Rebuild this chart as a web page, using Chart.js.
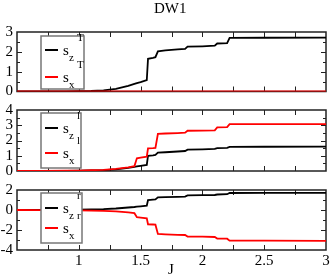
<!DOCTYPE html>
<html>
<head>
<meta charset="utf-8">
<script src="https://cdn.jsdelivr.net/npm/chart.js@4"></script>
<style>
  body { margin: 0; background: #fff; }
  #wrap { position: relative; width: 332px; height: 279px; }
  canvas { position: absolute; left: 0; top: 0; }
  .txt { position: absolute; font-family: "Liberation Serif", serif; font-size: 15px; color: #000; line-height: 1; }
</style>
</head>
<body>
<div id="wrap">
  <canvas id="c1" width="332" height="279"></canvas>
  <canvas id="c2" width="332" height="279"></canvas>
  <canvas id="c3" width="332" height="279"></canvas>
  <div class="txt" style="left:154px; top:1px;">DW1</div>
  <div class="txt" style="left:168px; top:262px;">J</div>
</div>
<script>
// valeurs
const J = [0.5, 0.7, 0.9, 1.0, 1.1, 1.2, 1.3, 1.4, 1.45, 1.47, 1.5, 1.55, 1.56, 1.6, 1.62, 1.64, 1.7, 1.8, 1.86, 1.88, 2.0, 2.1, 2.12, 2.2, 2.22, 2.5, 3.0];

const szT = [0, 0, 0.01, 0.02, 0.03, 0.06, 0.13, 0.28, 0.38, 0.42, 0.47, 0.57, 1.65, 1.7, 1.73, 2.02, 2.07, 2.12, 2.15, 2.26, 2.28, 2.31, 2.42, 2.44, 2.70, 2.71, 2.72];
const sxT = [0, 0, 0, 0, 0, 0, 0, 0, 0, 0, 0, 0, 0, 0, 0, 0, 0, 0, 0, 0, 0, 0, 0, 0, 0, 0, 0];

const szl = [0, 0, 0.01, 0.02, 0.04, 0.06, 0.11, 0.2, 0.27, 0.3, 0.34, 0.4, 1.0, 1.03, 1.05, 1.2, 1.23, 1.28, 1.31, 1.4, 1.42, 1.45, 1.5, 1.52, 1.58, 1.59, 1.6];
const sxl = [0, 0.01, 0.02, 0.03, 0.05, 0.08, 0.14, 0.24, 0.32, 0.83, 0.88, 0.94, 1.49, 1.5, 1.52, 2.43, 2.46, 2.49, 2.51, 2.64, 2.65, 2.67, 2.86, 2.88, 3.07, 3.08, 3.08];

const szr = [0, 0.01, 0.02, 0.04, 0.06, 0.09, 0.15, 0.25, 0.3, 0.33, 0.37, 0.43, 1.0, 1.04, 1.06, 1.27, 1.29, 1.32, 1.34, 1.46, 1.48, 1.5, 1.55, 1.58, 1.7, 1.71, 1.72];
const sxr = [0, -0.01, -0.02, -0.04, -0.06, -0.09, -0.14, -0.24, -0.32, -0.72, -0.76, -0.84, -1.43, -1.45, -1.47, -2.4, -2.43, -2.48, -2.5, -2.65, -2.67, -2.7, -2.85, -2.87, -3.07, -3.07, -3.08];

const yTicks1 = [0, 1, 2, 3];
const yTicks2 = [0, 1, 2, 3, 4];
const yTicks3 = [-4, -2, 0, 2];
const xTickLabels = [1, 1.5, 2, 2.5, 3];
const exposants = ['T', 'l', 'r'];
const indices = ['z', 'x'];

const police = '"Liberation Serif", serif';

function pts(arr) {
    return J.map((x, i) => ({ x: x, y: arr[i] }));
}

// cadre + graduations vers l'intérieur
const cadre = {
    id: 'cadre',
    beforeDatasetsDraw(chart, args, opts) {
        const ctx = chart.ctx;
        const a = chart.chartArea;
        const xs = chart.scales.x, ys = chart.scales.y;
        ctx.save();
        ctx.strokeStyle = '#222';
        ctx.lineWidth = 1.5;
        ctx.strokeRect(a.left, a.top, a.right - a.left, a.bottom - a.top);
        ctx.lineWidth = 1;
        ctx.beginPath();
        for (let v = xs.min + 0.25; v < xs.max - 0.01; v += 0.25) {
            const px = Math.round(xs.getPixelForValue(v)) + 0.5;
            ctx.moveTo(px, a.top); ctx.lineTo(px, a.top + 5);
            ctx.moveTo(px, a.bottom); ctx.lineTo(px, a.bottom - 5);
        }
        for (let v = ys.min + opts.pas; v < ys.max - 0.01; v += opts.pas) {
            const py = Math.round(ys.getPixelForValue(v)) + 0.5;
            const len = (Math.abs(v % opts.grand) < 0.01) ? 5 : 3;
            ctx.moveTo(a.left, py); ctx.lineTo(a.left + len, py);
            ctx.moveTo(a.right, py); ctx.lineTo(a.right - len, py);
        }
        ctx.stroke();
        ctx.restore();
    },
    afterDraw(chart, args, opts) {
        const ctx = chart.ctx;
        const b = opts.boite;
        ctx.save();
        ctx.textBaseline = 'alphabetic';
        ctx.textAlign = 'left';
        ctx.fillStyle = '#fff';
        ctx.fillRect(b[0], b[1], b[2] - b[0], b[3] - b[1]);
        ctx.strokeStyle = '#777';
        ctx.lineWidth = 1.5;
        ctx.strokeRect(b[0], b[1], b[2] - b[0], b[3] - b[1]);
        chart.data.datasets.forEach((ds, i) => {
            const L = opts.lignes[i];
            ctx.strokeStyle = ds.borderColor;
            ctx.lineWidth = 2;
            ctx.beginPath();
            ctx.moveTo(45, L); ctx.lineTo(58, L);
            ctx.stroke();
            ctx.fillStyle = '#000';
            ctx.font = '15px ' + police;
            ctx.fillText('s', 63, L + 5);
            ctx.font = '11px ' + police;
            ctx.fillText(indices[i], 69, L + 11);
            ctx.fillText(exposants[opts.n], 77, L - 9);
        });
        ctx.restore();
    }
};

function faireGraphe(id, n, serieZ, serieX, ymin, ymax, yTicks, haut, bas, pas, grand, boite, lignes, avecX) {
    return new Chart(document.getElementById(id), {
        type: 'line',
        data: {
            datasets: [
                { label: 'z', data: pts(serieZ), borderColor: '#000', borderWidth: 1.8, pointRadius: 0, tension: 0, order: 1 },
                { label: 'x', data: pts(serieX), borderColor: '#ff0000', borderWidth: 1.8, pointRadius: 0, tension: 0, order: 0 }
            ]
        },
        options: {
            responsive: false,
            animation: false,
            devicePixelRatio: 1,
            layout: { padding: { top: haut, bottom: bas, left: 0, right: 6 } },
            plugins: {
                legend: { display: false },
                tooltip: { enabled: false },
                cadre: { pas: pas, grand: grand, boite: boite, lignes: lignes, n: n }
            },
            scales: {
                x: {
                    type: 'linear', min: 0.5, max: 3,
                    display: avecX,
                    grid: { display: false, drawTicks: false },
                    border: { display: false },
                    afterBuildTicks: (s) => { s.ticks = xTickLabels.map(v => ({ value: v })); },
                    afterFit: (s) => { s.height = avecX ? 29 : 0; },
                    ticks: { color: '#000', font: { family: police, size: 15 }, padding: 2, maxRotation: 0, autoSkip: false, callback: (v) => String(v) }
                },
                y: {
                    min: ymin, max: ymax,
                    grid: { display: false, drawTicks: false },
                    border: { display: false },
                    afterBuildTicks: (s) => { s.ticks = yTicks.map(v => ({ value: v })); },
                    afterFit: (s) => { s.width = 17; },
                    ticks: { color: '#000', font: { family: police, size: 15 }, padding: 4, autoSkip: false, callback: (v) => String(v) }
                }
            }
        },
        plugins: [cadre]
    });
}

faireGraphe('c1', 0, szT, sxT, 0, 3, yTicks1, 32, 279 - 91.5, 0.5, 1, [41, 36, 84, 89], [50, 77], false);
faireGraphe('c2', 1, szl, sxl, 0, 4, yTicks2, 110, 279 - 171, 0.5, 1, [41, 113, 81, 168], [128, 153], false);
faireGraphe('c3', 2, szr, sxr, -4, 2, yTicks3, 190, 0, 1, 2, [41, 193, 82, 243], [208, 228], true);
</script>
</body>
</html>
